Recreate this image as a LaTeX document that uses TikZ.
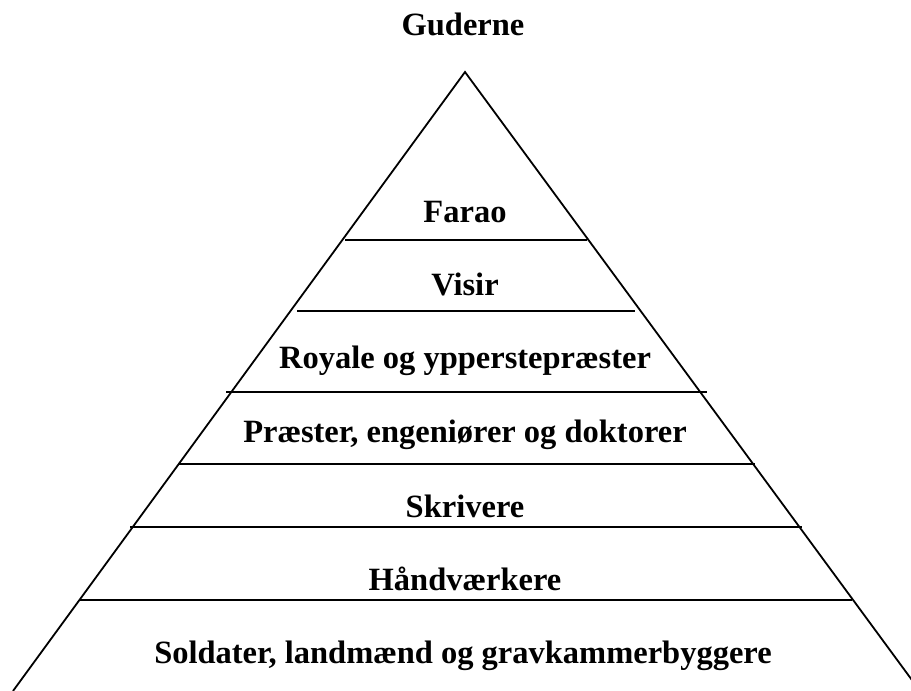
\documentclass[tikz,border=0pt]{standalone}
\usepackage{fontspec}
\setmainfont{Liberation Serif}
\usetikzlibrary{positioning}

\begin{document}
\begin{tikzpicture}[x=1pt,y=-1pt,line width=1.8pt]
\tikzstyle{lvl}=[anchor=base,inner sep=0pt,font=\fontsize{32.5}{38}\selectfont\bfseries]
\useasboundingbox (0,0) rectangle (911,691);
\clip (0,0) rectangle (911,691);
% pyramid sides
\coordinate (top) at (465,72);
\draw (13,691) -- (top) -- (920,691);
% layer lines
\draw (345,240) -- (587,240);
\draw (297,311) -- (635,311);
\draw (226,392) -- (707,392);
\draw (178,464) -- (755,464);
\draw (130,527) -- (802,527);
\draw (80,600) -- (852,600);
% labels
\node[lvl] (guder) at (463,35) {Guderne};
\node[lvl] (farao) at (465,222) {Farao};
\node[lvl] (visir) at (465,295) {Visir};
\node[lvl] (royale) at (465,368) {Royale og ypperstepræster};
\node[lvl] (praest) at (465,442) {Præster, engeniører og doktorer};
\node[lvl] (skriv) at (465,517) {Skrivere};
\node[lvl] (haand) at (465,590) {Håndværkere};
\node[lvl] (sold) at (463,663) {Soldater, landmænd og gravkammerbyggere};
\end{tikzpicture}
\end{document}
